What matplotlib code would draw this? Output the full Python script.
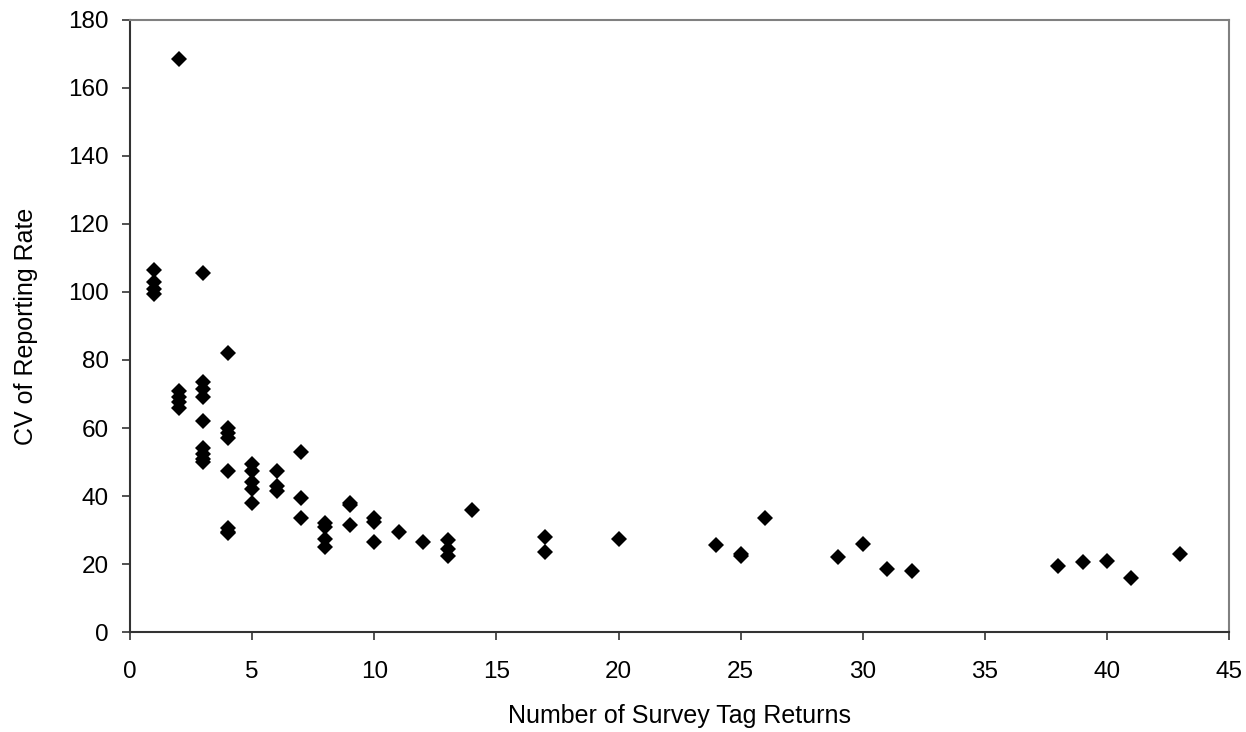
import matplotlib
matplotlib.use("Agg")
import matplotlib.pyplot as plt

plt.rcParams["font.family"] = ["Liberation Sans", "DejaVu Sans"]

# Number of survey tag returns vs CV of reporting rate
returns = [1, 1, 1, 1,
           2, 2, 2, 2, 2,
           3, 3, 3, 3, 3, 3, 3, 3, 3,
           4, 4, 4, 4, 4, 4, 4, 4,
           5, 5, 5, 5, 5,
           6, 6, 6,
           7, 7, 7,
           8, 8, 8, 8,
           9, 9, 9,
           10, 10, 10,
           11, 12,
           13, 13, 13,
           14, 17, 17, 20, 24, 25, 25, 26, 29, 30, 31, 32,
           38, 39, 40, 41, 43]
cv_rate = [106.5, 103, 101, 99.5,
           168.5, 71, 69, 67.5, 66,
           105.5, 73.5, 71.5, 69, 62, 54, 52.5, 51, 50,
           82, 60, 58.5, 57, 47.5, 30.5, 29.5, 29,
           49.5, 47.5, 44, 42, 38,
           47.5, 43, 41.5,
           53, 39.5, 33.5,
           32, 31, 27.5, 25,
           38, 37.5, 31.5,
           33.5, 32.5, 26.5,
           29.5, 26.5,
           27, 24.5, 22.5,
           36, 28, 23.5, 27.5, 25.5, 23, 22.5, 33.5, 22, 26, 18.5, 18,
           19.5, 20.5, 21, 16, 23]

fig = plt.figure(figsize=(12.46, 7.32), dpi=100)
ax = fig.add_axes([0.1043, 0.1366, 0.8822, 0.8361])

ax.plot(returns, cv_rate, linestyle="none", marker="D", markersize=8.5,
        color="black", markeredgewidth=0)

ax.set_xlim(0, 45)
ax.set_ylim(0, 180)
ax.set_xticks(range(0, 46, 5))
ax.set_yticks(range(0, 181, 20))
ax.tick_params(direction="out", length=6, width=1.2, labelsize=17.5, color="#333333")
ax.tick_params(axis="x", pad=15)
ax.tick_params(axis="y", pad=9)

for side in ["left", "bottom"]:
    ax.spines[side].set_color("#333333")
    ax.spines[side].set_linewidth(1.5)
for side in ["top", "right"]:
    ax.spines[side].set_color("#808080")
    ax.spines[side].set_linewidth(1.5)

ax.set_xlabel("Number of Survey Tag Returns", fontsize=18, labelpad=15)
ax.set_ylabel("CV of Reporting Rate", fontsize=18, labelpad=22)

fig.savefig("out.png", dpi=100)
